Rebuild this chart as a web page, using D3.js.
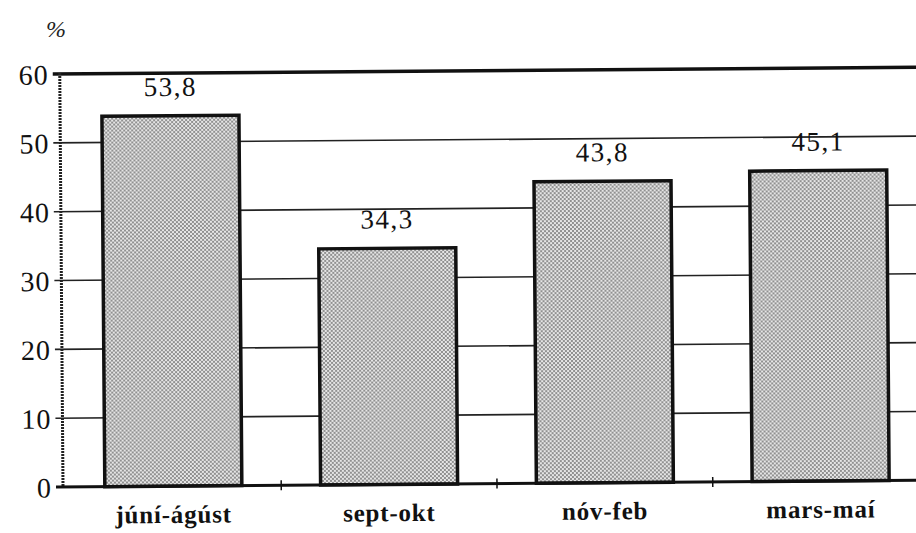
<!DOCTYPE html>
<html><head><meta charset="utf-8">
<script src="https://cdn.jsdelivr.net/npm/d3@7/dist/d3.min.js"></script>
<style>body{margin:0;background:#fff}svg{display:block}
text{font-family:"Liberation Serif","Times New Roman","DejaVu Serif",serif}</style>
</head><body>
<svg id="c" width="916" height="533"></svg>
<script>
const categories = ["júní-ágúst", "sept-okt", "nóv-feb", "mars-maí"];
const values = [53.8, 34.3, 43.8, 45.1];
const valueLabels = ["53,8", "34,3", "43,8", "45,1"];
const yTicks = [0, 10, 20, 30, 40, 50, 60];

const FONT = '"Liberation Serif","Times New Roman","DejaVu Serif",serif';
const svg = d3.select("#c");
const defs = svg.append("defs");
const pat = defs.append("pattern").attr("id","dots").attr("patternUnits","userSpaceOnUse")
  .attr("width",4).attr("height",4);
pat.append("rect").attr("width",4).attr("height",4).attr("fill","#e6e6e6");
pat.append("rect").attr("x",0).attr("y",0).attr("width",2).attr("height",2).attr("fill","#909090");
pat.append("rect").attr("x",2).attr("y",2).attr("width",2).attr("height",2).attr("fill","#909090");

const x = d3.scaleBand().domain(categories).range([66, 928]).paddingInner(0.365).paddingOuter(0.18);
const y = d3.scaleLinear().domain([0, 60]).range([487, 74]);

const g = svg.append("g").attr("transform","rotate(-0.45,63,487)");

g.selectAll("line.grid").data(yTicks.filter(d => d > 0 && d < 60)).join("line")
  .attr("x1", 56).attr("x2", 940).attr("y1", d => y(d)).attr("y2", d => y(d))
  .attr("stroke", "#222").attr("stroke-width", 1.6);
g.append("line").attr("x1", 56).attr("x2", 940).attr("y1", y(60)).attr("y2", y(60))
  .attr("stroke", "#111").attr("stroke-width", 3.5);

const yAxis = d3.axisLeft(y).tickValues(yTicks).tickSize(0).tickPadding(11);
const ya = g.append("g").attr("transform","translate(63,0)").call(yAxis);
ya.attr("font-family", null);
ya.select(".domain").remove();
ya.selectAll("text").style("font-family", FONT).style("font-size","28px")
  .style("letter-spacing","1px").attr("fill","#111").attr("dy","0.35em");

g.selectAll("rect.bar").data(values).join("rect")
  .attr("x", (d,i) => x(categories[i]))
  .attr("width", x.bandwidth())
  .attr("y", d => y(d))
  .attr("height", d => y(0) - y(d))
  .attr("fill", "url(#dots)").attr("stroke", "#111").attr("stroke-width", 3.5);

g.selectAll("text.val").data(values).join("text")
  .attr("x", (d,i) => x(categories[i]) + x.bandwidth()/2)
  .attr("y", d => y(d) - 20)
  .attr("text-anchor","middle")
  .style("font-family", FONT).style("font-size","27px").style("letter-spacing","1.5px")
  .attr("fill","#111")
  .text((d,i) => valueLabels[i]);

g.append("line").attr("x1",63).attr("x2",63).attr("y1",y(60)-1).attr("y2",y(0))
  .attr("stroke","#222").attr("stroke-width",3).attr("stroke-dasharray","2,1");

const xAxis = d3.axisBottom(x).tickSize(0).tickPadding(19);
const xa = g.append("g").attr("transform",`translate(0,${y(0)})`).call(xAxis);
xa.attr("font-family", null);
xa.select(".domain").attr("d","M56,0H940").attr("stroke","#111").attr("stroke-width",3);
xa.selectAll("text").style("font-family", FONT).style("font-size","25px")
  .style("font-weight","bold").style("letter-spacing","0.8px").attr("fill","#111");
const bounds = categories.slice(1).map(c => x(c) - x.step()*x.paddingInner()/2);
g.selectAll("line.xt").data(bounds).join("line")
  .attr("x1", d => d).attr("x2", d => d).attr("y1", y(0)-5).attr("y2", y(0)+5)
  .attr("stroke","#111").attr("stroke-width",1.5);

svg.append("text").attr("x",46).attr("y",37)
  .style("font-family", FONT).style("font-style","italic").style("font-size","24px")
  .attr("fill","#222").text("%");
</script>
</body></html>
